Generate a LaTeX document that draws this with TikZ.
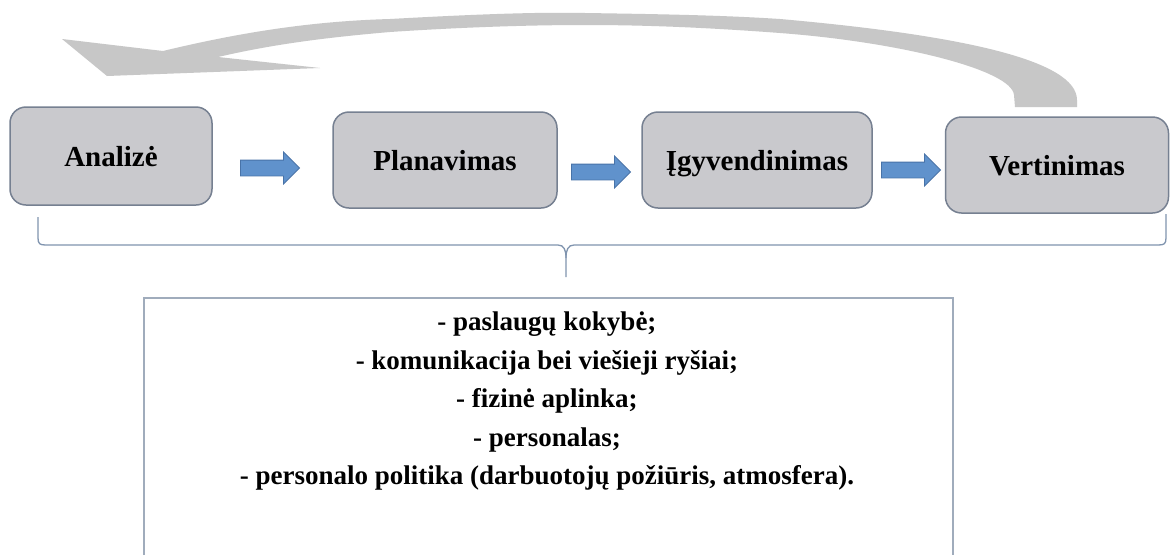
\documentclass[tikz,border=0pt]{standalone}
\usepackage{fontspec}
\setmainfont{Liberation Serif}
\usetikzlibrary{shapes.arrows}
\definecolor{boxfill}{RGB}{201,201,205}
\definecolor{boxline}{RGB}{118,128,145}
\definecolor{blueA}{RGB}{96,146,204}
\definecolor{blueB}{RGB}{72,115,168}
\definecolor{curvegray}{RGB}{199,199,199}
\definecolor{bracecol}{RGB}{128,148,175}
\definecolor{framecol}{RGB}{160,172,188}
\begin{document}
\begin{tikzpicture}[x=1pt,y=-1pt,
  stage/.style={draw=boxline, line width=1.5pt, fill=boxfill, rounded corners=16pt,
    font=\fontsize{29}{34}\selectfont\bfseries, inner sep=0pt, text height=21pt, text depth=0pt},
  flow/.style={single arrow, draw=blueB, fill=blueA, line width=0.8pt,
    minimum height=59pt, inner xsep=0pt, inner ysep=7.5pt,
    single arrow head extend=8pt},
  brace/.style={draw=bracecol, line width=1.3pt},
  frame/.style={draw=framecol, line width=1.5pt},
  listtext/.style={font=\fontsize{27}{38.5}\selectfont\bfseries, align=center, inner sep=0pt}]
\fill[white] (0,0) rectangle (1171,555);
\useasboundingbox (0,0) rectangle (1171,555);

% return arrow
\fill[curvegray] (62,39) -- (163,51) .. controls (250,30) and (320,21) .. (390,19)
  .. controls (480,14) and (540,12) .. (585,13)
  .. controls (650,14) and (720,15) .. (780,19)
  .. controls (960,35) and (1077,60) .. (1077,100) -- (1077,107) -- (1015,107) -- (1014,95)
  .. controls (1012,70) and (900,42) .. (780,33)
  .. controls (700,27) and (640,25) .. (585,25)
  .. controls (520,25) and (450,28) .. (390,32)
  .. controls (320,38) and (270,45) .. (218,57) -- (320,68) -- (107,76) -- cycle;

% stages
\node[stage, minimum width=202pt, minimum height=98pt] (A) at (111,156) {Analizė};
\node[stage, minimum width=224pt, minimum height=96pt] (P) at (445,160) {Planavimas};
\node[stage, minimum width=230pt, minimum height=96pt] (I) at (757,160) {Įgyvendinimas};
\node[stage, minimum width=223pt, minimum height=96pt] (V) at (1057,165) {Vertinimas};

% flow arrows
\node[flow] (f1) at (266,168) {};
\node[flow] (f2) at (597,172) {};
\node[flow] (f3) at (907,170) {};

% brace
\coordinate (bl) at (38,217);
\coordinate (bt) at (566,277);
\coordinate (br) at (1166,214);
\draw[brace] (bl) -- (38,238) .. controls (38,244) and (40,245) .. (46,245) -- (558,245)
  .. controls (564,245) and (566,250) .. (566,258) -- (bt);
\draw[brace] (566,258) .. controls (566,250) and (568,245) .. (574,245) -- (1158,245)
  .. controls (1164,245) and (1166,244) .. (1166,238) -- (br);

% list box
\draw[frame] (144,555) -- (144,298) -- (953,298) -- (953,555);
\node[listtext] (L) at (547,401) {- paslaugų kokybė;\\
- komunikacija bei viešieji ryšiai;\\
- fizinė aplinka;\\
- personalas;\\
- personalo politika (darbuotojų požiūris, atmosfera).};
\end{tikzpicture}
\end{document}
